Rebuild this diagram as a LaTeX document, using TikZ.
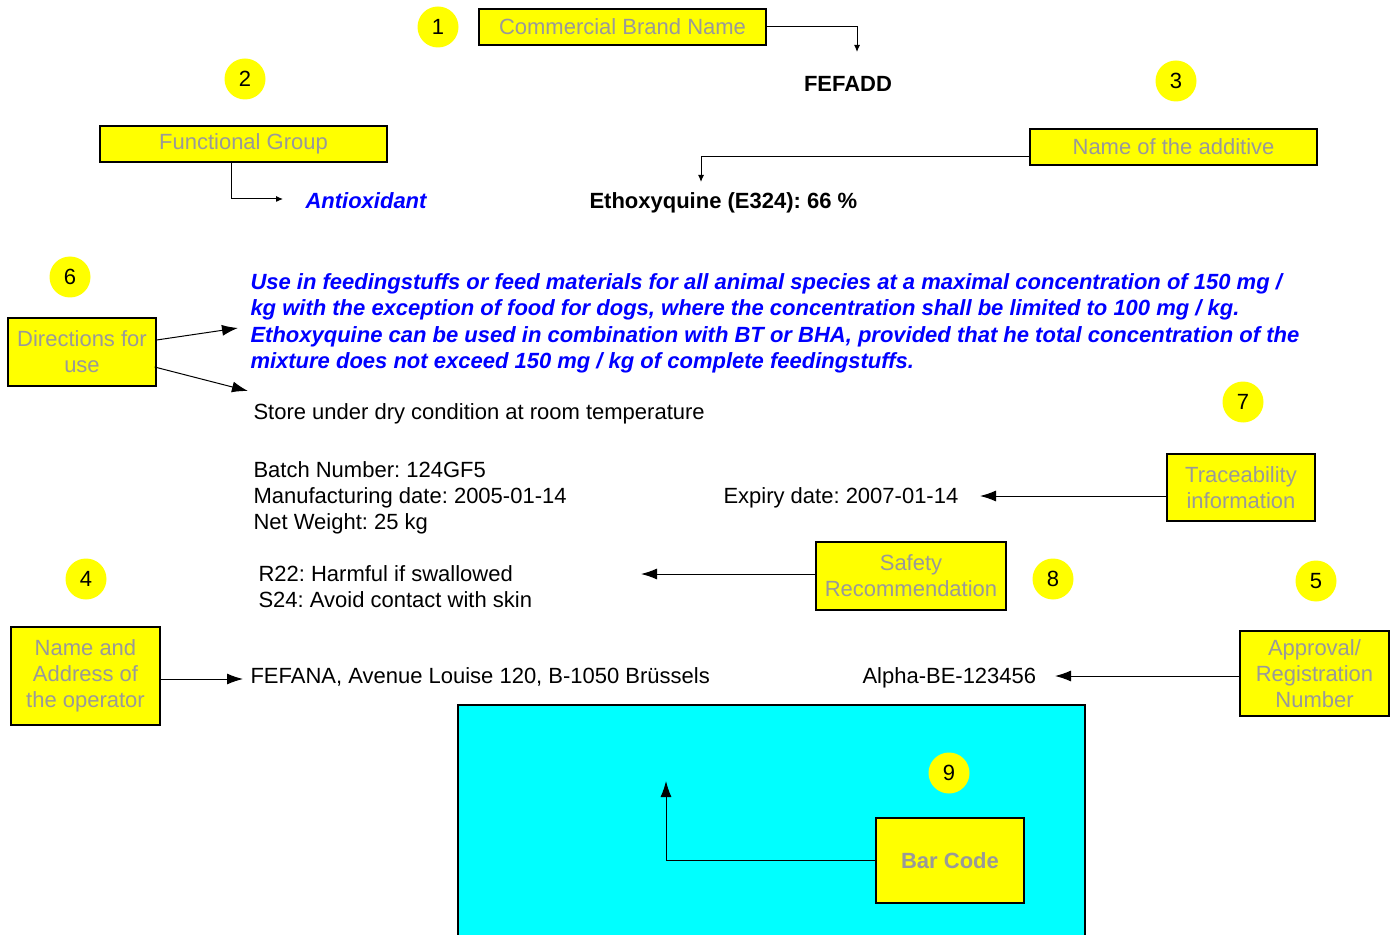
\documentclass[tikz,border=0pt]{standalone}
\usepackage{fontspec}
\setmainfont{Liberation Sans}
\usepackage{tikz}
\usetikzlibrary{arrows,arrows.meta,positioning}
\definecolor{labelgray}{RGB}{153,153,153}
\definecolor{boxyellow}{RGB}{255,255,0}
\definecolor{codecyan}{RGB}{0,255,255}
\definecolor{textblue}{RGB}{0,0,255}
\frenchspacing

\begin{document}
\begin{tikzpicture}[x=0.5pt,y=-0.5pt,line width=0.5pt,
            big/.style={-{Latex[length=8pt,width=5.5pt]}},
            small/.style={-{Latex[length=3.5pt,width=3pt]}},
            label box/.style={rectangle,fill=boxyellow,draw,line width=0.65pt,
            text=labelgray,align=center,font=\fontsize{11}{13}\selectfont,inner sep=1pt},
            num node/.style={circle,fill=boxyellow,minimum size=20.5pt,inner sep=0pt,
            font=\fontsize{11}{13}\selectfont},
            plain text/.style={anchor=base west,inner sep=0pt,font=\fontsize{11}{13}\selectfont},
            block text/.style={anchor=north west,inner sep=0pt,align=left,font=\fontsize{11}{13}\selectfont}]

    \useasboundingbox (0,0) rectangle (1396,935);

    \filldraw[fill=codecyan,line width=0.65pt] (458,940) -- (458,705) -- (1085,705) -- (1085,940);

    \node[num node] (NumOne) at (438,27) {1};
    \node[num node] (NumTwo) at (245,79) {2};
    \node[num node] (NumThree) at (1176,81) {3};
    \node[num node] (NumFour) at (86,579) {4};
    \node[num node] (NumFive) at (1316,581) {5};
    \node[num node] (NumSix) at (70,277) {6};
    \node[num node] (NumSeven) at (1243,402) {7};
    \node[num node] (NumEight) at (1053,579) {8};
    \node[num node] (NumNine) at (949,773) {9};

    \node[label box,minimum width=143.5pt,minimum height=18pt] (BrandName) at (622.5,27) {Commercial Brand Name};
    \node[label box,minimum width=143.5pt,minimum height=18pt] (FunctionalGroup) at (243.5,144) {Functional Group};
    \node[label box,minimum width=143.5pt,minimum height=18pt] (AdditiveName) at (1173.5,147) {Name of the additive};
    \node[label box,minimum width=74pt,minimum height=34pt] (Directions) at (82,352) {Directions for\\use};
    \node[label box,minimum width=74pt,minimum height=33.5pt] (Traceability) at (1241,487.5) {Traceability\\information};
    \node[label box,minimum width=95pt,minimum height=34pt] (Safety) at (911,576) {Safety\\Recommendation};
    \node[label box,minimum width=74.5pt,minimum height=49pt] (Operator) at (85.5,676) {Name and\\Address of\\the operator};
    \node[label box,minimum width=74.5pt,minimum height=42.5pt] (Approval) at (1314.5,673.5) {Approval/\\Registration\\Number};
    \node[label box,minimum width=74pt,minimum height=42.5pt,font=\fontsize{11}{13}\selectfont\bfseries] (BarCode) at (950,860.5) {Bar Code};

    \node[plain text,anchor=base,font=\fontsize{11}{13}\selectfont\bfseries] (Fefadd) at (848,92) {FEFADD};
    \node[plain text,text=textblue,font=\fontsize{11}{13}\selectfont\bfseries\itshape] (Antioxidant) at (305,209) {Antioxidant};
    \node[plain text,font=\fontsize{11}{13}\selectfont\bfseries] (Ethoxyquine) at (589,209) {Ethoxyquine (E324): 66 \%};
    \node[block text,text=textblue,font=\fontsize{11}{13.25}\selectfont\bfseries\itshape] (UseText) at (250,273)
        {Use in feedingstuffs or feed materials for all animal species at a maximal concentration of 150 mg /\\
         kg with the exception of food for dogs, where the concentration shall be limited to 100 mg / kg.\\
         Ethoxyquine can be used in combination with BT or BHA, provided that he total concentration of the\\
         mixture does not exceed 150 mg / kg of complete feedingstuffs.};
    \node[plain text] (Store) at (253,419) {Store under dry condition at room temperature};
    \node[block text] (Batch) at (253,461) {Batch Number: 124GF5\\Manufacturing date: 2005-01-14\\Net Weight: 25 kg};
    \node[plain text] (Expiry) at (723,503) {Expiry date: 2007-01-14};
    \node[block text] (Risk) at (258,565) {R22: Harmful if swallowed\\S24: Avoid contact with skin};
    \node[plain text] (Address) at (250,683) {FEFANA, Avenue Louise 120, B-1050 Brüssels};
    \node[plain text] (RegNumber) at (862,683) {Alpha-BE-123456};

    \coordinate (BrandEnd) at (857,52);
    \coordinate (GroupEnd) at (283,199);
    \coordinate (AdditiveEnd) at (701,182);
    \coordinate (UseEnd) at (238,328);
    \coordinate (StoreEnd) at (248,391);
    \coordinate (TraceEnd) at (980,496);
    \coordinate (SafetyEnd) at (641,574);
    \coordinate (OperatorEnd) at (243,679);
    \coordinate (ApprovalEnd) at (1055,676);
    \coordinate (BarEnd) at (666,781);

    \draw [small] (BrandName.east) -| (BrandEnd);
    \draw [small] ([xshift=-6.25pt]FunctionalGroup.south) |- (GroupEnd);
    \draw [small] ([yshift=-5pt]AdditiveName.west) -| (AdditiveEnd);

    \draw [big] ([yshift=6pt]Directions.east) -- (UseEnd);
    \draw [big] ([xshift=-1pt,yshift=-7.5pt]Directions.east) -- (StoreEnd);
    \draw [big] ([yshift=-4.25pt]Traceability.west) -- (TraceEnd);
    \draw [big] ([yshift=1pt]Safety.west) -- (SafetyEnd);
    \draw [big] ([yshift=-1.5pt]Operator.east) -- (OperatorEnd);
    \draw [big] ([yshift=-1.25pt]Approval.west) -- (ApprovalEnd);
    \draw [big] (BarCode.west) -| (BarEnd);
\end{tikzpicture}
\end{document}
